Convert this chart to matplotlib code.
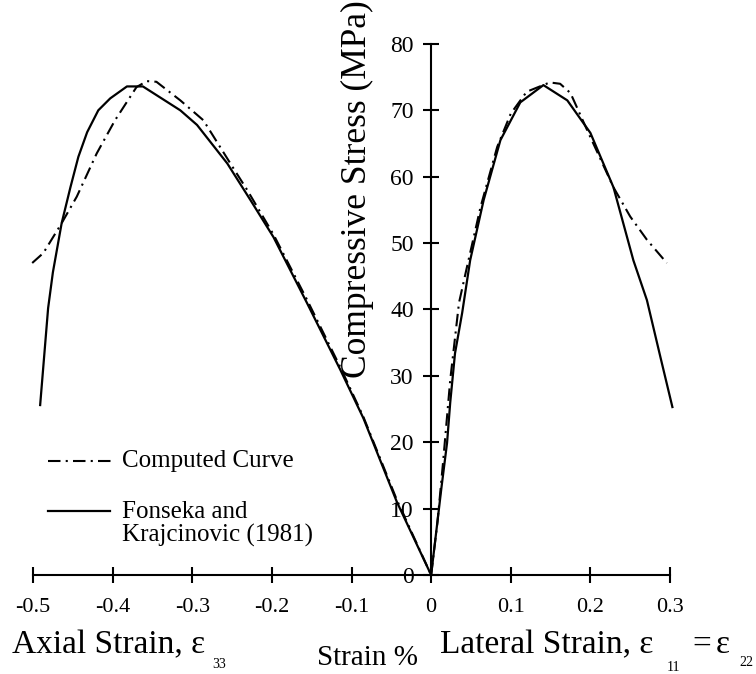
import matplotlib
matplotlib.use("Agg")
import matplotlib.pyplot as plt
from matplotlib.lines import Line2D

plt.rcParams['font.family'] = ['Liberation Serif', 'DejaVu Serif']
plt.rcParams['axes.unicode_minus'] = False

# Fonseka and Krajcinovic (1981) - axial branch (negative strain)
exp_axial_x = [-0.491, -0.481, -0.475, -0.464, -0.453, -0.443, -0.432, -0.418, -0.403,
               -0.382, -0.362, -0.315, -0.294, -0.256, -0.227, -0.198, -0.156, -0.114,
               -0.085, -0.043, 0.0]
exp_axial_y = [25.6, 40.2, 45.6, 53.0, 58.4, 63.0, 66.7, 70.0, 71.8,
               73.6, 73.6, 70.0, 67.8, 62.0, 56.5, 50.9, 41.0, 30.9,
               23.6, 11.0, 0.0]

# Fonseka and Krajcinovic (1981) - lateral branch
exp_lat_x = [0.0, 0.013, 0.020, 0.024, 0.030, 0.039, 0.049, 0.066, 0.087, 0.112,
             0.141, 0.171, 0.200, 0.229, 0.254, 0.271, 0.288, 0.303]
exp_lat_y = [0.0, 13.2, 19.9, 26.0, 33.4, 39.5, 47.4, 56.5, 65.5, 71.2,
             73.8, 71.5, 66.6, 58.4, 47.4, 41.4, 32.8, 25.3]

# Computed curve - axial branch
comp_axial_x = [-0.501, -0.487, -0.464, -0.445, -0.420, -0.397, -0.370, -0.357, -0.345,
                -0.315, -0.286, -0.249, -0.231, -0.198, -0.156, -0.114, -0.085, -0.043, 0.0]
comp_axial_y = [47.0, 48.5, 53.0, 57.0, 63.5, 68.5, 73.5, 74.4, 74.3,
                71.5, 68.5, 61.4, 58.0, 51.3, 41.5, 31.3, 23.8, 11.3, 0.0]

# Computed curve - lateral branch
comp_lat_x = [0.0, 0.008, 0.015, 0.024, 0.035, 0.045, 0.062, 0.083, 0.100, 0.120,
              0.149, 0.162, 0.175, 0.196, 0.229, 0.250, 0.271, 0.296]
comp_lat_y = [0.0, 8.0, 17.0, 29.4, 41.0, 46.4, 55.4, 64.5, 69.5, 72.8,
              74.2, 74.0, 72.6, 67.0, 58.4, 54.0, 50.5, 47.0]

x_ticks = [-0.5, -0.4, -0.3, -0.2, -0.1, 0.0, 0.1, 0.2, 0.3]
x_tick_labels = ['-0.5', '-0.4', '-0.3', '-0.2', '-0.1', '0', '0.1', '0.2', '0.3']
y_ticks = [0, 10, 20, 30, 40, 50, 60, 70, 80]

W, H = 756, 674
fig = plt.figure(figsize=(W / 100, H / 100), dpi=100)
ax = fig.add_axes([9.1 / W, 0.1272, 684.8 / W, 0.8273])
ax.set_xlim(-0.53, 0.33)
ax.set_ylim(-2, 82)

dashdot = (0, (6, 2.5, 1, 2.5))
for xs, ys in [(comp_axial_x, comp_axial_y), (comp_lat_x, comp_lat_y)]:
    ax.plot(xs, ys, color='black', lw=1.5, linestyle=dashdot, clip_on=False)
for xs, ys in [(exp_axial_x, exp_axial_y), (exp_lat_x, exp_lat_y)]:
    ax.plot(xs, ys, color='black', lw=1.6, clip_on=False)

for s in ['top', 'right']:
    ax.spines[s].set_visible(False)
ax.spines['left'].set_position(('data', 0))
ax.spines['bottom'].set_position(('data', 0))
ax.spines['left'].set_bounds(0, 80)
ax.spines['bottom'].set_bounds(-0.5, 0.3)
for s in ['left', 'bottom']:
    ax.spines[s].set_linewidth(1.5)

ax.set_xticks(x_ticks)
ax.set_xticklabels(x_tick_labels)
ax.set_yticks(y_ticks)
ax.tick_params(axis='both', direction='inout', length=11, width=1.5)
ax.tick_params(axis='x', labelsize=16, pad=11)
ax.tick_params(axis='y', labelsize=17, pad=7)
ax.patch.set_visible(False)


def px(x, y):
    return x / W, (H - y) / H


# axis labels
fig.text(*px(357, 378), 'Compressive Stress (MPa)', rotation=90, fontsize=25.5,
         ha='center', va='bottom')
fig.text(*px(12, 653), 'Axial Strain, ε', fontsize=24, ha='left', va='baseline')
fig.text(*px(212, 668), '33', fontsize=10, ha='left', va='baseline')
fig.text(*px(317, 665), 'Strain %', fontsize=21, ha='left', va='baseline')
fig.text(*px(440, 653), 'Lateral Strain, ε', fontsize=24, ha='left', va='baseline')
fig.text(*px(667, 671), '11', fontsize=10, ha='left', va='baseline')
fig.text(*px(692, 653), '=', fontsize=24, ha='left', va='baseline')
fig.text(*px(716, 653), 'ε', fontsize=24, ha='left', va='baseline')
fig.text(*px(739, 666), '22', fontsize=10, ha='left', va='baseline')

# legend
fig.add_artist(Line2D([48 / W, 115 / W], [(H - 461) / H] * 2, color='black',
                      lw=1.5, linestyle=dashdot))
fig.text(*px(122, 461), 'Computed Curve', fontsize=18, ha='left', va='center')
fig.add_artist(Line2D([48 / W, 110 / W], [(H - 511) / H] * 2, color='black', lw=1.6))
fig.text(*px(122, 524), 'Fonseka and\nKrajcinovic (1981)', fontsize=18, ha='left',
         va='center', linespacing=1.05)

fig.savefig('out.png', dpi=100)
